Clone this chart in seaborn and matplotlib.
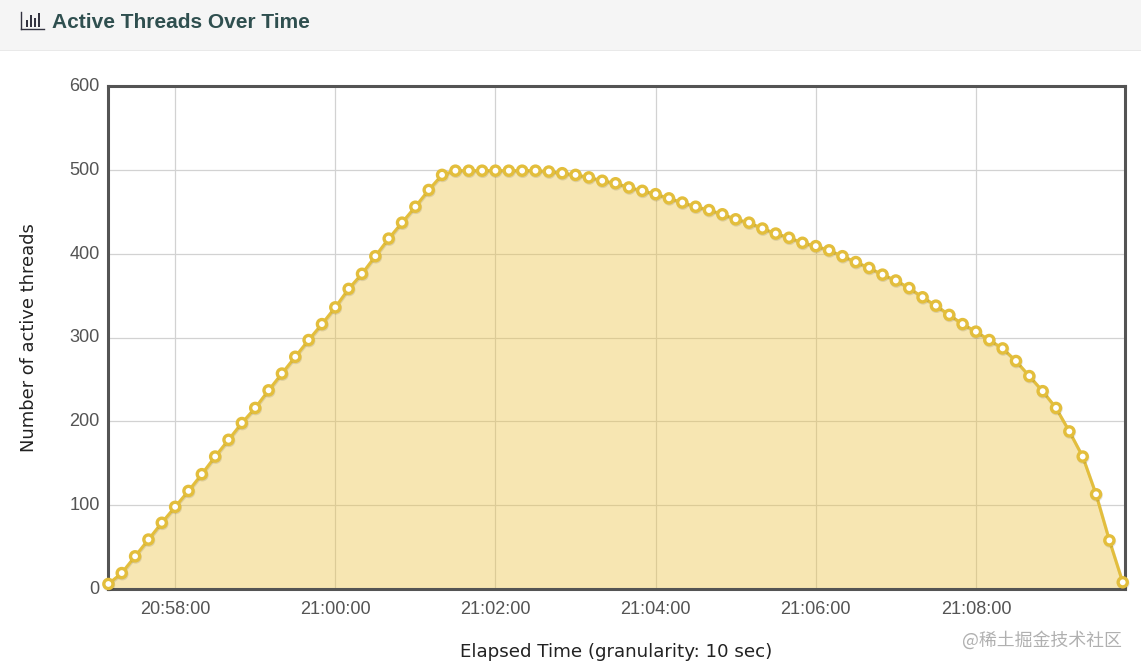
import matplotlib
matplotlib.use("Agg")
import matplotlib.pyplot as plt
import matplotlib.dates as mdates
import matplotlib.patheffects as pe
from matplotlib.patches import Rectangle
from matplotlib.transforms import ScaledTranslation
import pandas as pd
import seaborn as sns

title = "Active Threads Over Time"
xlabel = "Elapsed Time (granularity: 10 sec)"
ylabel = "Number of active threads"
watermark = "@稀土掘金技术社区"
start_time = "2023-01-01 20:57:10"
threads = [6, 19, 39, 59, 79, 98, 117, 137, 158, 178, 198, 216, 237, 257, 277, 297, 316, 336, 358,
           376, 397, 418, 437, 456, 476, 494, 499, 499, 499, 499, 499, 499, 499, 498, 496, 494, 491,
           487, 484, 479, 475, 471, 466, 461, 456, 452, 447, 441, 437, 430, 424, 419, 413, 409, 404,
           397, 390, 383, 375, 368, 359, 348, 338, 327, 316, 307, 297, 287, 272, 254, 236, 216, 188,
           158, 113, 58, 8]
yticks = [0, 100, 200, 300, 400, 500, 600]
icon_bars = [3, 5.2, 4, 6]

df = pd.DataFrame({
    "time": pd.date_range(start_time, periods=len(threads), freq="10s"),
    "threads": threads,
})

sns.set_theme(style="white")
plt.rcParams["font.family"] = ["Liberation Sans", "DejaVu Sans"]

W, H = 1141, 669
fig = plt.figure(figsize=(W / 100, H / 100), dpi=100, facecolor="white")

fig.add_artist(Rectangle((0, 1 - 50 / H), 1, 50 / H, transform=fig.transFigure,
                         facecolor="#f5f5f5", edgecolor="none"))
fig.add_artist(Rectangle((0, 1 - 51 / H), 1, 1 / H, transform=fig.transFigure,
                         facecolor="#e9e9e9", edgecolor="none"))
fig.text(52 / W, 1 - 22.5 / H, title, fontsize=15.05, fontweight="bold", color="#2f4f4f",
         va="center", ha="left", family="Liberation Sans")

icon = fig.add_axes([21 / W, 1 - 28.5 / H, 23 / W, 17 / H], zorder=5)
icon.bar(range(len(icon_bars)), icon_bars, bottom=0.7, width=0.62, color="#333340", linewidth=0)
icon.set_xlim(-1.5, 4.25)
icon.set_ylim(0, 7.5)
icon.set_xticks([])
icon.set_yticks([])
icon.patch.set_alpha(0)
for s in ("top", "right"):
    icon.spines[s].set_visible(False)
for s in ("left", "bottom"):
    icon.spines[s].set_color("#333340")
    icon.spines[s].set_linewidth(1.0)

ax = fig.add_axes([108 / W, 1 - 589 / H, (1125 - 108) / W, (589 - 86) / H], zorder=2)
ax.set_facecolor("white")
ax.grid(True, color="#d2d2d2", linewidth=0.9)
ax.set_axisbelow(True)

ax.fill_between(df["time"], df["threads"], 0, color="#edc240", alpha=0.4, linewidth=0, zorder=2)
sns.lineplot(data=df, x="time", y="threads", ax=ax, color="#e3be3c", linewidth=2.2,
             marker="o", markersize=6.6, markerfacecolor="white", markeredgecolor="#e3be3c",
             markeredgewidth=2.4, clip_on=False, zorder=3)
ax.lines[-1].set_path_effects([
    pe.SimpleLineShadow(offset=(0.4, -0.8), shadow_color="#000000", alpha=0.1),
    pe.Normal(),
])

ax.set_xlim(pd.Timestamp("2023-01-01 20:57:09.700"), pd.Timestamp("2023-01-01 21:09:51.700"))
ax.set_ylim(0, 600)
ax.xaxis.set_major_locator(mdates.MinuteLocator(byminute=range(0, 60, 2)))
ax.xaxis.set_major_formatter(mdates.DateFormatter("%H:%M:%S"))
ax.set_yticks(yticks)
ax.tick_params(axis="x", length=0, labelsize=13.1, labelcolor="#545454", pad=8.5)
ax.tick_params(axis="y", length=0, labelsize=13.1, labelcolor="#545454", pad=6)
lift = ScaledTranslation(0, 1.5 / 100, fig.dpi_scale_trans)
for lab in ax.get_yticklabels():
    lab.set_transform(lab.get_transform() + lift)

for s in ax.spines.values():
    s.set_color("#545454")
    s.set_linewidth(2.2)
    s.set_visible(True)

ax.set_xlabel("")
ax.set_ylabel("")
fig.text(616.5 / W, 1 - 652 / H, xlabel, fontsize=13.15, color="#222222", ha="center", va="center",
         family="DejaVu Sans")
fig.text(29.5 / W, 1 - 337.5 / H, ylabel, fontsize=12.9, color="#222222", ha="center", va="center",
         rotation=90, family="DejaVu Sans")
fig.text(1122 / W, 1 - 640 / H, watermark, fontsize=12.9, color="#b0b0b0", ha="right", va="center",
         family=["Noto Sans CJK SC", "DejaVu Sans"])

fig.savefig("out.png", dpi=100, facecolor="white")
